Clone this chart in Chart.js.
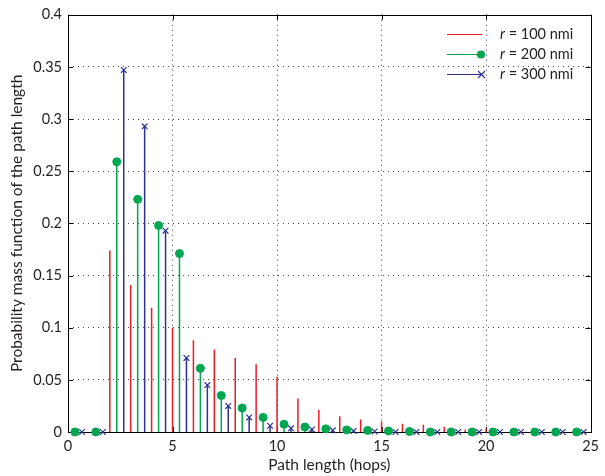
<!DOCTYPE html>
<html>
<head>
<meta charset="utf-8">
<script src="https://cdn.jsdelivr.net/npm/chart.js@4.4.1/dist/chart.umd.min.js"></script>
<style>
  html,body{margin:0;padding:0;background:#fff;}
</style>
</head>
<body>
<canvas id="pmfChart" width="605" height="476"></canvas>
<script>
const hops = [0,1,2,3,4,5,6,7,8,9,10,11,12,13,14,15,16,17,18,19,20,21,22,23,24];
const pmf100 = [0,0,0.174,0.141,0.119,0.100,0.088,0.079,0.071,0.065,0.053,0.032,0.021,0.015,0.012,0.010,0.008,0.007,0.005,0.0025,0.003,0,0,0,0];
const pmf200 = [0,0,0.259,0.223,0.198,0.171,0.061,0.035,0.023,0.014,0.0075,0.0048,0.003,0.002,0.0015,0.001,0.0005,0,0,0,0,0,0,0,0];
const pmf300 = [0,0,0.347,0.293,0.193,0.071,0.045,0.025,0.014,0.006,0.0035,0.0025,0.0016,0.001,0.0005,0,0,0,0,0,0,0,0,0,0];
const xTicks = [0,5,10,15,20,25];
const yTicks = [0,0.05,0.1,0.15,0.2,0.25,0.3,0.35,0.4];
const seriesNames = ['100 nmi','200 nmi','300 nmi'];

const RED = '#ee1c25', GREEN = '#00a650', BLUE = '#2e3192';
const FONT = 'Lato, "Open Sans", sans-serif';
const INK = '#231f20';

// each stem: base point, top point, then a gap
function stems(vals, shift){
  const pts = [];
  vals.forEach((v,i)=>{
    const x = hops[i] + shift;
    pts.push({x, y:0}, {x, y:v, top:true}, {x, y:null});
  });
  return pts;
}

function stemSet(vals, shift, color, style){
  return {
    data: stems(vals, shift),
    showLine: true,
    spanGaps: false,
    borderColor: color,
    borderWidth: 1.5,
    pointStyle: style || 'circle',
    pointRadius: c => (style && c.raw && c.raw.top) ? 4 : 0,
    pointBackgroundColor: color,
    pointBorderColor: color,
    pointBorderWidth: style === 'crossRot' ? 1.2 : 1,
    clip: false
  };
}

// box + inward tick marks like the original axes
const frame = {
  id:'frame',
  beforeDatasetsDraw(chart){
    const {ctx, chartArea:a, scales:{x, y}} = chart;
    ctx.save();
    ctx.strokeStyle = '#000';
    ctx.lineWidth = 1;
    ctx.beginPath();
    xTicks.forEach(t=>{
      const px = Math.round(x.getPixelForValue(t)) + 0.5;
      ctx.moveTo(px, a.bottom); ctx.lineTo(px, a.bottom - 5);
      ctx.moveTo(px, a.top); ctx.lineTo(px, a.top + 5);
    });
    yTicks.forEach(t=>{
      const py = Math.round(y.getPixelForValue(t)) + 0.5;
      ctx.moveTo(a.left, py); ctx.lineTo(a.left + 5, py);
      ctx.moveTo(a.right, py); ctx.lineTo(a.right - 5, py);
    });
    ctx.stroke();
    ctx.strokeRect(Math.round(a.left)+0.5, Math.round(a.top)+0.5, Math.round(a.right-a.left), Math.round(a.bottom-a.top));
    ctx.restore();
  }
};

const legendBox = {
  id:'legendBox',
  afterDraw(chart){
    const {ctx} = chart;
    const colors = [RED, GREEN, BLUE];
    ctx.save();
    ctx.textBaseline = 'middle';
    seriesNames.forEach((name,i)=>{
      const yy = 34 + i*20;
      ctx.strokeStyle = colors[i];
      ctx.lineWidth = 1.2;
      ctx.beginPath(); ctx.moveTo(447, yy+0.5); ctx.lineTo(482, yy+0.5); ctx.stroke();
      if (i === 1){
        ctx.fillStyle = GREEN;
        ctx.beginPath(); ctx.arc(481, yy+0.5, 4, 0, Math.PI*2); ctx.fill();
      } else if (i === 2){
        ctx.strokeStyle = BLUE;
        ctx.beginPath();
        ctx.moveTo(478, yy-3); ctx.lineTo(485, yy+4);
        ctx.moveTo(485, yy-3); ctx.lineTo(478, yy+4);
        ctx.stroke();
      }
      ctx.fillStyle = INK;
      ctx.font = 'italic 14.5px ' + FONT;
      ctx.fillText('r', 500, yy);
      const w = ctx.measureText('r').width;
      ctx.font = '14.5px ' + FONT;
      ctx.fillText(' = ' + name, 500 + w, yy);
    });
    ctx.restore();
  }
};

new Chart(document.getElementById('pmfChart'), {
  type:'scatter',
  data:{ datasets:[
    stemSet(pmf100, 0, RED, null),
    stemSet(pmf200, 1/3, GREEN, 'circle'),
    stemSet(pmf300, 2/3, BLUE, 'crossRot')
  ]},
  options:{
    responsive:false,
    animation:false,
    events:[],
    layout:{ padding:{ top:12, right:8, left:0, bottom:0 } },
    plugins:{ legend:{ display:false }, tooltip:{ enabled:false } },
    scales:{
      x:{
        type:'linear', min:0, max:25,
        afterBuildTicks: s => { s.ticks = xTicks.map(v=>({value:v})); },
        afterFit: s => { s.height = 44; },
        border:{ display:false, dash:[1,4] },
        grid:{ color: c => (c.tick && (c.tick.value === 0 || c.tick.value === 25)) ? 'rgba(0,0,0,0)' : '#444', lineWidth:1, drawTicks:false },
        ticks:{ color:INK, font:{ family:FONT, size:14.5 }, padding:6, maxRotation:0 },
        title:{ display:true, text:'Path length (hops)', color:INK, font:{ family:FONT, size:15.5 }, padding:{ top:2, bottom:2 } }
      },
      y:{
        type:'linear', min:0, max:0.4,
        afterBuildTicks: s => { s.ticks = yTicks.map(v=>({value:v})); },
        afterFit: s => { s.width = 68; },
        border:{ display:false, dash:[1,4] },
        grid:{ color: c => (c.tick && (c.tick.value === 0 || c.tick.value === 0.4)) ? 'rgba(0,0,0,0)' : '#444', lineWidth:1, drawTicks:false },
        ticks:{ color:INK, font:{ family:FONT, size:14.5 }, padding:6, callback: v => String(v) },
        title:{ display:true, text:'Probability mass function of the path length', color:INK, font:{ family:FONT, size:15.5 }, padding:{ top:8, bottom:4 } }
      }
    }
  },
  plugins:[frame, legendBox]
});
</script>
</body>
</html>
